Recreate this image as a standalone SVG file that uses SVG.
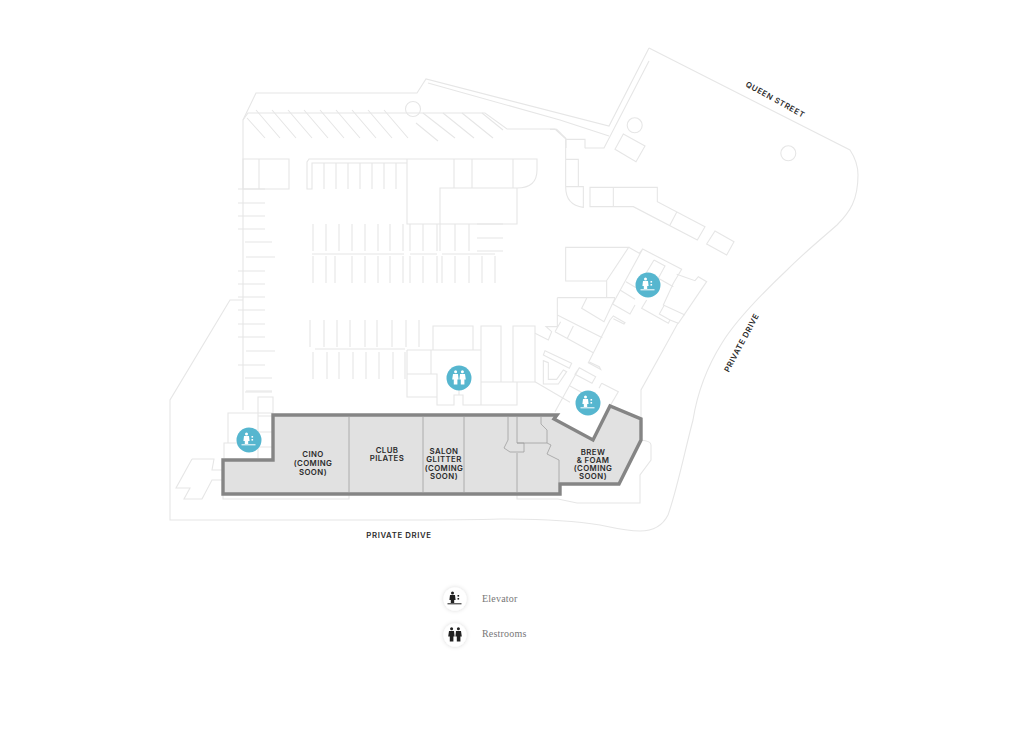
<svg xmlns="http://www.w3.org/2000/svg" width="1024" height="745" viewBox="0 0 1024 745">
<style>
.p{fill:none;stroke:#e6e6e6;stroke-width:1.1;vector-effect:non-scaling-stroke}
.p *{fill:none;stroke:#e6e6e6;stroke-width:1.1;vector-effect:non-scaling-stroke}
.zone{fill:#e1e1e1;stroke:#858585;stroke-width:3.4;stroke-linejoin:miter}
.div{fill:none;stroke:#a0a0a0;stroke-width:.8}
.l{font-family:"Inter","Liberation Sans",sans-serif;font-weight:600;font-size:7.8px;fill:#2b2b2b;text-anchor:middle;letter-spacing:.4px}
.r{font-family:"Inter","Liberation Sans",sans-serif;font-weight:600;font-size:7.8px;fill:#2b2b2b;text-anchor:middle;letter-spacing:.6px}
.k{font-family:"Liberation Serif",serif;font-size:10px;fill:#777;letter-spacing:.2px}
.b{fill:#56b6cf}
</style>
<defs>
<filter id="sh" x="-50%" y="-50%" width="200%" height="200%"><feDropShadow dx="0" dy="0" stdDeviation="2.2" flood-color="#000" flood-opacity=".16"/></filter>
<g id="elev"><circle cx="-2.5" cy="-6" r="1.5"/><path d="M-5-4H0L.6 1H-.8V4H-4.2V1H-5.6Z"/><rect x="-7.5" y="4.3" width="14" height="1"/><rect x="2.5" y="-4" width="1.6" height="1.6"/><rect x="2.5" y="-1" width="1.6" height="1.6"/></g>
<g id="rest"><circle cx="-3.4" cy="-6.2" r="1.5"/><path d="M-6-4H-1L-.4 1.5H-1.6V6.500H-5.2V1.500H-6.800Z"/><circle cx="3.400" cy="-6.200" r="1.500"/><path d="M1-4H6L6.800 1.500H5.400V6.500H1.800V1.500H.4Z"/></g>
</defs>

<g id="site-plan" class="p">
<path d="M649 48 850 150Q858 162 858 175C858 200 850 212 837 225C820 240 805 252 787 270C750 305 730 330 722 343C705 370 697 395 693 420C685 450 677 490 668 515C662 527 652 531 640 531C625 531 610 527 600 525C570 520 540 519 500 519C470 520 430 520 400 520H170V400L230 300H243"/>
<path d="M243 410V120L256 93H417L426 79 609 126 649 48"/>
<path d="M428 83 560 120 609 136M649 61 604 148H585"/>
<path d="M243 120 248 113H485L507 129H555L566 139V148"/>
<circle cx="413" cy="109" r="7.5"/><circle cx="634.700" cy="125.300" r="7.500"/><circle cx="788.300" cy="153.300" r="7.500"/>
<path d="M247 118 265 138M256 110 280 138M272 110 296 138M288 110 312 138M304 110 328 138M320 110 344 138M336 110 360 138M352 110 376 138M368 110 392 138M384 110 408 138M416 123 438 141M423 113 455 138M443 113 474 138M462 113 493 138M482 113 503 130"/>
<path d="M243 159H289V189H243ZM259 159V189"/>
<path d="M407 159H309L307 162V189H312V163H407M324 163V189M336 163V189M348 163V189M360 163V189M372 163V189M384 163V189M396 163V189"/>
<path d="M407 159H537V170Q537 188 517 188H440M407 159V224H517V188H440V224M454 159V188M472 159V188M513 159V188"/>
<path d="M238 189H265M238 203H265M238 216H265M238 229H265M245 242H272M246 257H275M238 271H265M238 284H265M238 297H265M238 310H265M238 324H265M238 337H265M246 351H275M238 365H265M245 378H272M245 392H272"/>
<path d="M313 224V251M326 224V251M339 224V251M352 224V251M365 224V251M378 224V251M390 224V251M403 224V251M410 224V251M423 224V251M437 224V251M440 224V251M455 224V251M469 224V251M477 224H503M477 238H503M477 251H503"/>
<path d="M312 254H404M410 254H437M442 254H495"/>
<path d="M313 256V283M326 256V283M335 256V283M352 256V283M365 256V283M378 256V283M390 256V283M403 256V283M410 256V283M423 256V283M437 256V283M442 256V283M455 256V283M469 256V283M482 256V283M495 256V283"/>
<path d="M310 320V347M324 320V347M337 320V347M350 320V347M365 320V347M377 320V347M392 320V347M406 320V347M419 320V347"/>
<path d="M315 349H405"/>
<path d="M313 352V379M327 352V379M339 352V379M353 352V379M366 352V379M379 352V379M393 352V379M405 352V379"/>
<path d="M433 350V326H473V350M407 350H481V405H463V395H454V405H437V374H407V350M431 350V374M407 374V397H437M459 390V395M481 326H501V382H481ZM513 326H535V382H513ZM481 382H517V405H481"/>
<path d="M228 443V413H273V397H258V458M258 416H273M258 432H273M258 447H273M224 458V443H258M246 391H272"/>
<path d="M192 459H214L212 470H223M223 480H212L202 499H184L190 488H176L192 459"/>
<path d="M223 494V499H349V494M517 495V499H558L577 503H640V475L651 460V445Q651 441 641 440"/>
<path d="M641 420V390L667 343 678 323"/>
<g transform="translate(530 240) scale(.33333)">
<path d="M107 22H296L229 123H107ZM230 123V173M82 173H255M82 173V260H48L65 275 55 300 15 280M170 175 155 205 222 245 255 175M82 225 217 293M75 275 190 338M92 245 75 275M130 258 112 295"/>
<path d="M240 240 175 368 212 388 208 380 178 366M240 240 250 228 285 248 282 252 250 236"/>
<path d="M45 332 125 370 118 385 40 345ZM40 362V432H85L110 395 100 390 80 418H55V368ZM15 425 120 487"/>
<path d="M148 383 197 410 186 430 135 403ZM148 383 75 515M120 438 187 475M215 430 265 455 230 515M215 430 207 445"/>
<path d="M296 22 328 40 338 27 455 88 430 130 400 195 465 225M338 27 248 192 300 222 315 195M270 150 315 178M288 125 330 150M372 60 345 105M372 60 405 78 385 115 430 140"/>
<path d="M440 103 495 122 505 110 530 125 445 250 420 240 415 250 335 205 350 180M420 240 388 222 403 195"/>
</g>
<g transform="translate(550 40) scale(.33333)">
<path d="M0 268H20L47 295V440M47 298H105V325M47 358H85V440M47 440H100V502Q47 495 47 440M120 442H322V485L465 560 442 600 250 500H120ZM190 442V500M380 517 360 555M495 573 552 605 530 645 470 612ZM220 282 285 318 258 365 195 328Z"/>
</g>
</g>

<g id="zone">
<path class="zone" d="M223 460H273V415H557L554 419 593 440 610 406 641 419V440L619 484H560V494H223Z"/>
<g id="unit-dividers">
<path class="div" d="M349 417V492M423 417V492M464 417V492"/>
<path class="div" d="M508 417V440L504 448 510 452H524V443H517V417M517 443H547V430L541 424V417M547 443 551 445 547 454 559 460V482M517 453V492"/>
</g>
</g>

<g id="unit-cino"><text class="l" x="313" y="457">CINO</text><text class="l" x="313" y="466">(COMING</text><text class="l" x="313" y="475">SOON)</text></g>
<g id="unit-club-pilates"><text class="l" x="387" y="453">CLUB</text><text class="l" x="387" y="461">PILATES</text></g>
<g id="unit-salon-glitter"><text class="l" x="444" y="454">SALON</text><text class="l" x="444" y="462">GLITTER</text><text class="l" x="444" y="471">(COMING</text><text class="l" x="444" y="479">SOON)</text></g>
<g id="unit-brew-foam"><text class="l" x="593" y="455">BREW</text><text class="l" x="593" y="463">&amp; FOAM</text><text class="l" x="593" y="471">(COMING</text><text class="l" x="593" y="479">SOON)</text></g>

<g id="road-labels">
<text class="r" x="399" y="538">PRIVATE DRIVE</text>
<text class="r" transform="translate(744 344) rotate(-62)">PRIVATE DRIVE</text>
<text class="r" transform="translate(774 102) rotate(29)">QUEEN STREET</text>
</g>

<g id="pin-elevator-1"><circle class="b" cx="249" cy="440" r="12.500"/><use href="#elev" x="249" y="440" fill="#fff"/></g>
<g id="pin-restrooms"><circle class="b" cx="459" cy="378" r="12.500"/><use href="#rest" x="459" y="378" fill="#fff"/></g>
<g id="pin-elevator-2"><circle class="b" cx="588" cy="403" r="12.500"/><use href="#elev" x="588" y="403" fill="#fff"/></g>
<g id="pin-elevator-3"><circle class="b" cx="648" cy="285" r="12.500"/><use href="#elev" x="648" y="285" fill="#fff"/></g>

<g id="legend-elevator"><circle cx="455" cy="599" r="11.500" fill="#fff" filter="url(#sh)"/><use href="#elev" x="455" y="599" fill="#222"/><text class="k" x="482" y="602">Elevator</text></g>
<g id="legend-restrooms"><circle cx="455" cy="635" r="11.500" fill="#fff" filter="url(#sh)"/><use href="#rest" x="455" y="635" fill="#222"/><text class="k" x="482" y="637">Restrooms</text></g>
</svg>
